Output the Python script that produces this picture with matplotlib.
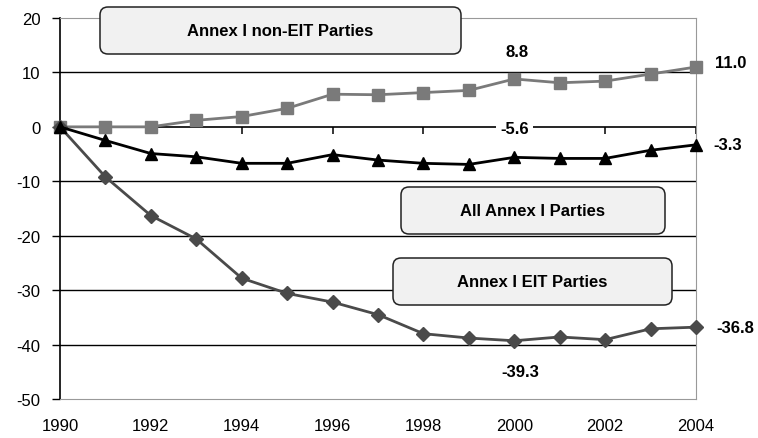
import matplotlib
matplotlib.use("Agg")
import matplotlib.pyplot as plt
from matplotlib.patches import FancyBboxPatch

plt.rcParams['font.family'] = ['Liberation Sans', 'DejaVu Sans']
plt.rcParams['axes.unicode_minus'] = False

years = list(range(1990, 2005))
non_eit = [0, 0, 0, 1.2, 1.9, 3.4, 6.0, 5.9, 6.3, 6.7, 8.8, 8.1, 8.4, 9.7, 11.0]
all_annex = [0, -2.5, -4.9, -5.5, -6.7, -6.7, -5.1, -6.1, -6.7, -6.9, -5.6, -5.8, -5.8, -4.3, -3.3]
eit = [0, -9.2, -16.3, -20.6, -27.8, -30.6, -32.2, -34.5, -38.0, -38.8, -39.3, -38.6, -39.1, -37.1, -36.8]
xticks = list(range(1990, 2005, 2))
yticks = [20, 10, 0, -10, -20, -30, -40, -50]
box_labels = ['Annex I non-EIT Parties', 'All Annex I Parties', 'Annex I EIT Parties']

W, H = 758, 439
fig = plt.figure(figsize=(W / 100, H / 100), dpi=100)
ax = fig.add_axes([60 / W, 39 / H, 636 / W, 381 / H])
ax.set_xlim(1990, 2004)
ax.set_ylim(-50, 20)

for y in [10, -10, -20, -30, -40]:
    ax.axhline(y, color='black', lw=1.0, zorder=1)
ax.axhline(0, color='black', lw=1.2, zorder=1)
# x-axis tick marks hang from the zero line
ax.plot(xticks, [0] * len(xticks), ls='none', marker=3, ms=5, mew=1.1, color='black', zorder=1)

ax.plot(years, non_eit, color='#7a7a7a', lw=2, marker='s', ms=9, zorder=3, clip_on=False)
ax.plot(years, all_annex, color='black', lw=2, marker='^', ms=9, zorder=4, clip_on=False)
ax.plot(years, eit, color='#4a4a4a', lw=2, marker='D', ms=7, zorder=3, clip_on=False)

for s in ['top', 'right', 'bottom']:
    ax.spines[s].set_color('#999999')
ax.spines['left'].set_color('black')
ax.spines['left'].set_linewidth(1.2)

ax.set_yticks(yticks)
ax.set_xticks(xticks)
ax.tick_params(axis='y', length=6, labelsize=12, width=1, pad=8)
ax.tick_params(axis='x', length=0, labelsize=12, pad=14)

# label boxes (pixel rectangles: x0, y0_top, x1, y1_bottom)
boxes = [(100, 8, 461, 55), (401, 188, 665, 235), (393, 259, 672, 306)]
for (x0, y0, x1, y1), txt in zip(boxes, box_labels):
    p = FancyBboxPatch((x0 / 100, (H - y1) / 100), (x1 - x0) / 100, (y1 - y0) / 100,
                       boxstyle='round,pad=0,rounding_size=0.08', transform=fig.dpi_scale_trans,
                       facecolor='#f1f1f1', edgecolor='#222222', lw=1.1, zorder=5)
    fig.add_artist(p)
    fig.text((x0 + x1) / 2 / W, 1 - (y0 + y1) / 2 / H, txt, ha='center', va='center',
             fontsize=12, fontweight='bold', zorder=6)

lab = dict(fontsize=12, fontweight='bold', va='center', ha='center', textcoords='offset points')
ax.annotate(f'{non_eit[10]:.1f}', (2000, non_eit[10]), xytext=(2, 20), **lab)
ax.annotate(f'{non_eit[14]:.1f}', (2004, non_eit[14]), xytext=(25, 3), **lab)
ax.annotate(f'{all_annex[10]:.1f}', (2000, all_annex[10]), xytext=(0, 21),
            bbox=dict(facecolor='white', edgecolor='none', pad=3), zorder=6, **lab)
ax.annotate(f'{all_annex[14]:.1f}', (2004, all_annex[14]), xytext=(23, 0), **lab)
ax.annotate(f'{eit[10]:.1f}', (2000, eit[10]), xytext=(4, -22), **lab)
ax.annotate(f'{eit[14]:.1f}', (2004, eit[14]), xytext=(28, 0), **lab)

fig.savefig('out.png', dpi=100)
